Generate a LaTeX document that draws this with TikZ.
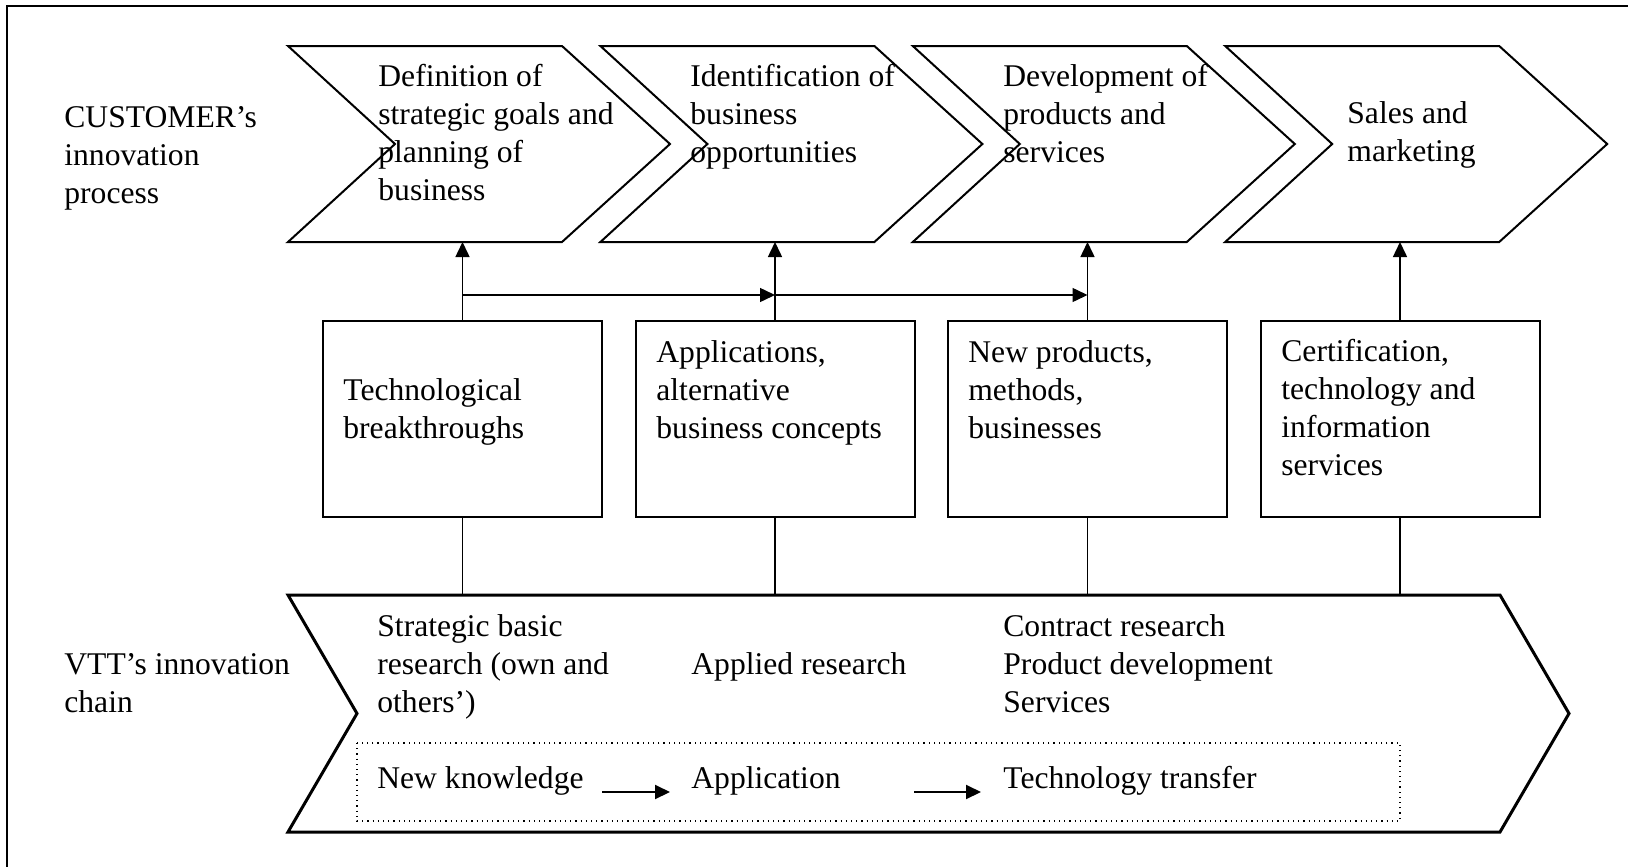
\documentclass[tikz,border=0pt]{standalone}
\usepackage{fontspec}
\setmainfont{Liberation Serif}
\usetikzlibrary{arrows.meta}

% text nodes sit on the baseline of their last line
\tikzset{
  txt/.style={anchor=base west, align=left, inner sep=0pt},
  chev/.style={line width=1pt, line join=miter},
  chain/.style={line width=1.5pt, line join=miter},
  box/.style={draw, line width=1pt, minimum width=139.5pt, minimum height=98pt, inner sep=0pt},
  conn/.style={line width=0.75pt},
  arr/.style={conn, -{Triangle[length=7.5pt,width=7pt]}},
}

\begin{document}
\begin{tikzpicture}[x=0.5pt, y=-0.5pt, font=\fontsize{15.8}{19}\selectfont]
\useasboundingbox (0,0) rectangle (1628,867);

% outer frame, right and bottom edges run off the page
\draw[line width=1pt] (1660,6) -- (7,6) -- (7,900);

% row labels
\node[txt] (custlbl) at (64,203) {CUSTOMER’s\\innovation\\process};
\node[txt] (vttlbl) at (64,712) {VTT’s innovation\\chain};

% Customer process chevrons
\foreach \i [count=\n] in {0,...,3} {
  \draw[chev] ({288+312.4*\i},46) -- ++(274,0) -- ++(108,98) -- ++(-108,98)
    -- ++(-274,0) -- ++(107,-98) -- cycle;
  \coordinate (p\n) at ({462.5+312.5*\i},242);
}
\node[txt] (defn) at (378,200) {Definition of\\strategic goals and\\planning of\\business};
\node[txt] (ident) at (690,162) {Identification of\\business\\opportunities};
\node[txt] (devel) at (1003,162) {Development of\\products and\\services};
\node[txt] (sales) at (1347,161) {Sales and\\marketing};

% Result boxes
\node[box] (b1) at (462.5,419) {};
\node[box] (b2) at (775,419) {};
\node[box] (b3) at (1087.5,419) {};
\node[box] (b4) at (1400,419) {};
\node[txt] (tech) at (343,438) {Technological\\breakthroughs};
\node[txt] (appl) at (656,438) {Applications,\\alternative\\business concepts};
\node[txt] (newp) at (968,438) {New products,\\methods,\\businesses};
\node[txt] (cert) at (1281,475) {Certification,\\technology and\\information\\services};

% VTT innovation chain
\draw[chain] (288,595) -- (1500,595) -- (1569,713.5) -- (1500,832) -- (288,832)
  -- (357,713.5) -- cycle;
\coordinate (chaintop) at (288,595);
\node[txt] (basic) at (377,712) {Strategic basic\\research (own and\\others’)};
\node[txt] (applied) at (691,674) {Applied research};
\node[txt] (contract) at (1003,712) {Contract research\\Product development\\Services};

% knowledge flow
\draw[dotted, line width=0.6pt] (357,743) rectangle (1400,821);
\node[txt] (know) at (377,788) {New knowledge};
\node[txt] (apn) at (691,788) {Application};
\node[txt] (transf) at (1003,788) {Technology transfer};
\draw[arr, line width=1pt] ([shift={(-89,4)}]apn.base west) -- ([shift={(-21,4)}]apn.base west);
\draw[arr, line width=1pt] ([shift={(-89,4)}]transf.base west) -- ([shift={(-22,4)}]transf.base west);

% connectors
\foreach \n in {1,...,4} {
  \draw[arr] (b\n.north) -- (p\n);
  \draw[conn] (b\n.south) -- (b\n.south |- chaintop);
}
\path (b1.north) ++(0,-25) coordinate (j1);
\draw[arr] (j1) -- (j1 -| b2.north);
\draw[arr] (j1 -| b2.north) -- (j1 -| b3.north);
\end{tikzpicture}
\end{document}
